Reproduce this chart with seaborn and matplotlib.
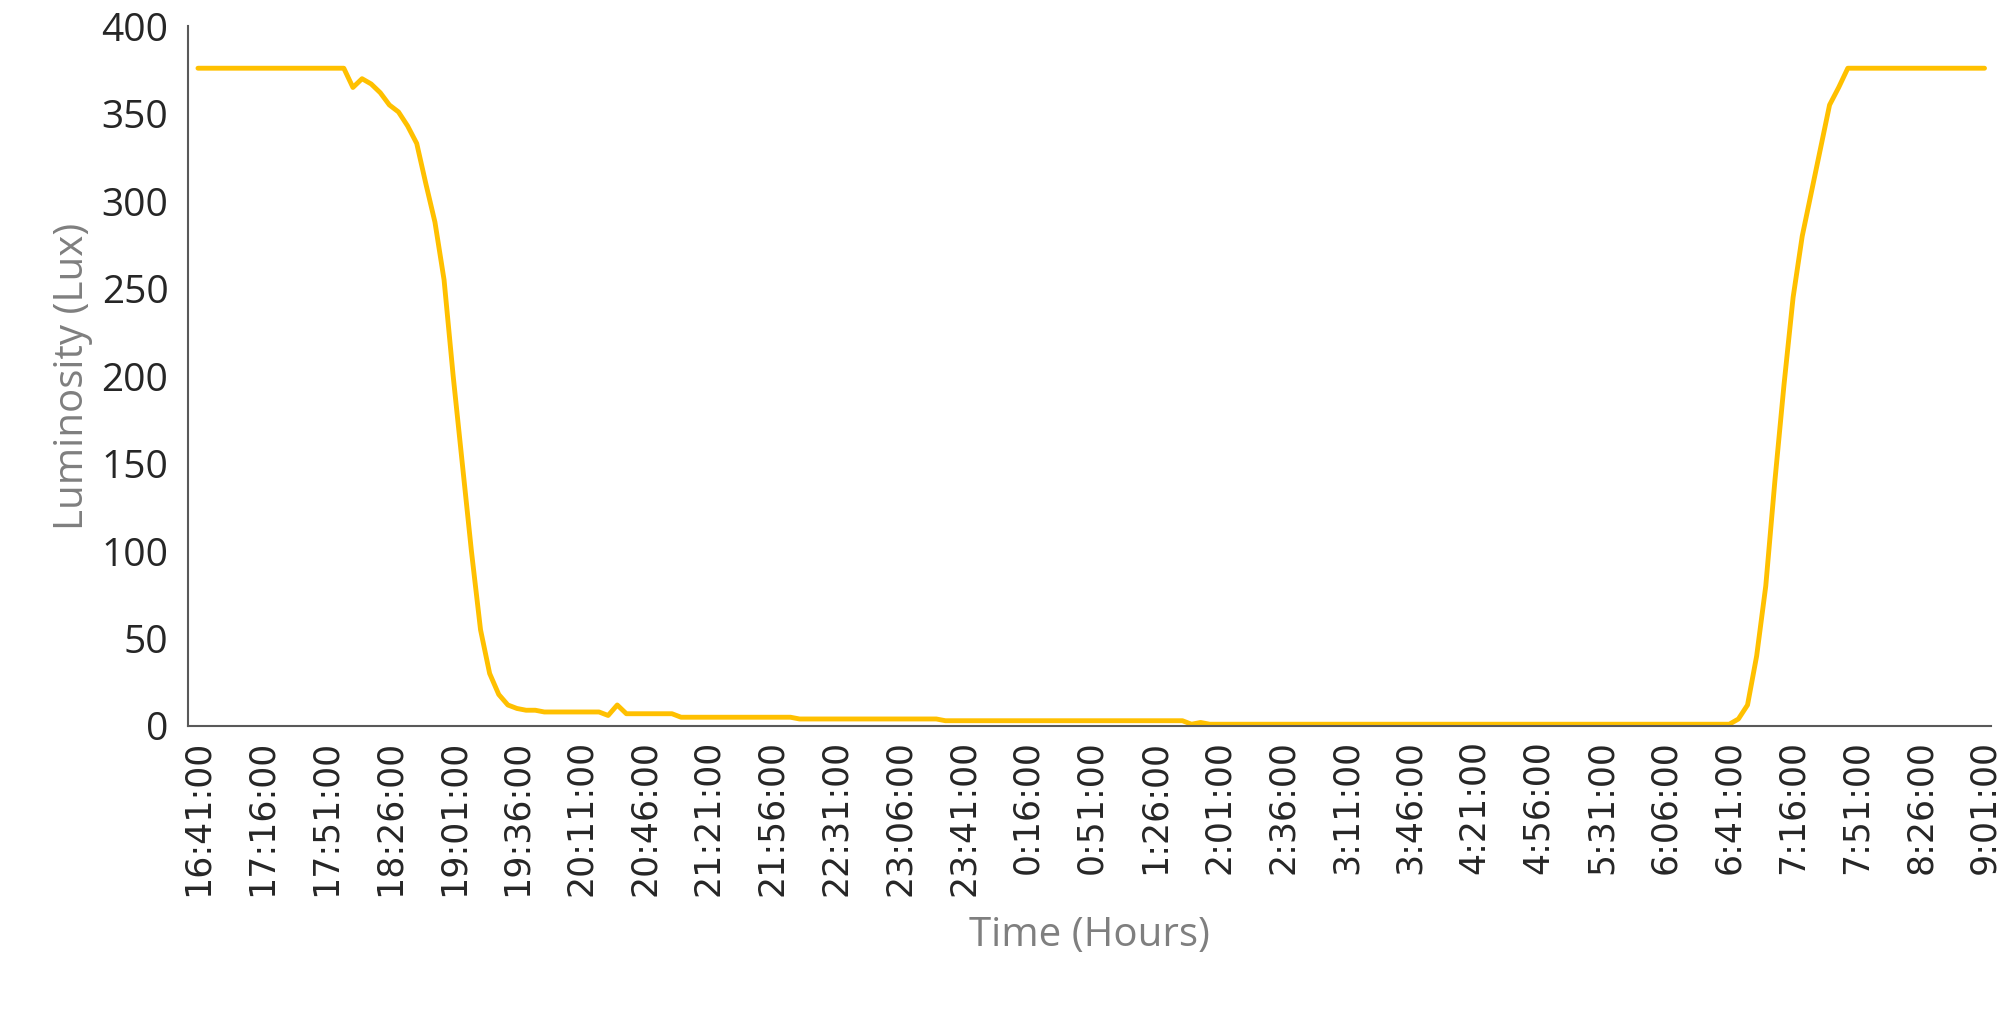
import matplotlib
matplotlib.use("Agg")
import matplotlib.pyplot as plt
import seaborn as sns
import pandas as pd

tick_labels = ["16:41:00","17:16:00","17:51:00","18:26:00","19:01:00","19:36:00","20:11:00",
               "20:46:00","21:21:00","21:56:00","22:31:00","23:06:00","23:41:00","0:16:00",
               "0:51:00","1:26:00","2:01:00","2:36:00","3:11:00","3:46:00","4:21:00","4:56:00",
               "5:31:00","6:06:00","6:41:00","7:16:00","7:51:00","8:26:00","9:01:00"]

evening = [376,376,376,376,376,376,376,376,376,376,376,376,376,376,376,376,376,
           365,370,367,362,355,351,343,333,310,288,255,200,150,100,55,30,18,12,10,9,9,
           8,8,8,8,8,8,8,6,12,7,7,7,7,7,7]
night_a = [5,5,5,5,5,5,5,5,5,5,5,5,5,
           4,4,4,4,4,4,4,4,4,4,4,4,4,4,4,4,
           3,3,3,3,3,3,3,3,3,3,3,3,3,3,3,3,3,3,3,3,3,3,3,3,3,3,3]
night_b = [1,2,1,1,1,1,1,1,1,1,1,1,1,1,1,1,1,1,1,1,1,1,1,1,1,1,1,1,1,1,1,1,1,1,1,1,1,1,
           1,1,1,1,1,1,1,1,1,1,1,1,1,1,1,1,1,1,1,1,1]
morning = [1,4,12,40,80,140,195,245,280,305,330,355,365,
           376,376,376,376,376,376,376,376,376,376,376,376,376,376,376,376]

lux = evening + night_a + night_b + morning
df = pd.DataFrame({"idx": range(len(lux)), "lux": lux})

sns.set_theme(style="white")
plt.rcParams["font.family"] = ["Liberation Sans Narrow", "DejaVu Sans"]

fig = plt.figure(figsize=(20.1, 10.09), dpi=100)
ax = fig.add_axes([0.0935, 0.2805, 0.897, 0.6935])
sns.lineplot(data=df, x="idx", y="lux", ax=ax, color="#FFC000", linewidth=3.5)

ax.set_xlim(-1.1, len(lux) - 0.3)
ax.set_ylim(0, 400)
ax.set_yticks(range(0, 401, 50))
ax.set_xticks(range(0, len(lux), 7))
ax.set_xticklabels(tick_labels, rotation=90)
ax.tick_params(axis="both", length=0, colors="#262626")
ax.tick_params(axis="y", labelsize=28, pad=14)
ax.tick_params(axis="x", labelsize=25, pad=10)
for lbl in ax.get_yticklabels():
    lbl.set_family(["Open Sans", "DejaVu Sans"])
for s in ["top", "right"]:
    ax.spines[s].set_visible(False)
for s in ["left", "bottom"]:
    ax.spines[s].set_color("#595959")
    ax.spines[s].set_linewidth(1.5)
ax.set_xlabel("Time (Hours)", fontsize=29, color="#7f7f7f", family=["Open Sans", "DejaVu Sans"], labelpad=14)
ax.set_ylabel("Luminosity (Lux)", fontsize=29, color="#7f7f7f", family=["Open Sans", "DejaVu Sans"], labelpad=6)
fig.savefig("out.png", dpi=100)
